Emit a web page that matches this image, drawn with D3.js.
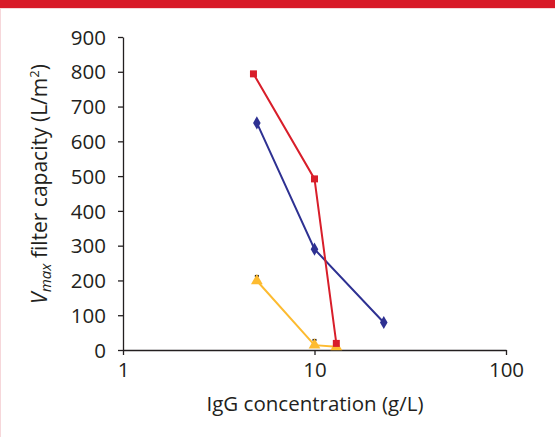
<!DOCTYPE html>
<html>
<head>
<meta charset="utf-8">
<script src="https://cdn.jsdelivr.net/npm/d3@7"></script>
<style>
  html, body { margin: 0; padding: 0; background: #fff; }
  svg { display: block; }
  text { font-family: "Open Sans", "Noto Sans", sans-serif; fill: #231f20; }
</style>
</head>
<body>
<svg id="chart" width="555" height="437"></svg>
<script>
// ---- data ----
const xTicks = [1, 10, 100];
const yTicks = [0, 100, 200, 300, 400, 500, 600, 700, 800, 900];

const redX = [4.8, 10, 13];
const redY = [794, 492, 19];

const blueX = [5.0, 10, 23];
const blueY = [653, 290, 79];

const yellowX = [5.0, 10, 13];
const yellowY = [199, 14, 9];
const yellowErrTop = [213, 29, 22];

const xTitle = "IgG concentration (g/L)";

// ---- layout ----
const svg = d3.select("#chart");
const W = 555, H = 437;

svg.append("rect").attr("x", 0).attr("y", 0).attr("width", W).attr("height", H).attr("fill", "#fff");
// red header bar + faint borders
svg.append("rect").attr("x", 0).attr("y", 0).attr("width", W).attr("height", 8).attr("fill", "#d81a28");
svg.append("rect").attr("x", 0).attr("y", 8).attr("width", W).attr("height", 1).attr("fill", "#f6d7da");
svg.append("rect").attr("x", 0).attr("y", 8).attr("width", 1).attr("height", H - 8).attr("fill", "#f6d7da");

const x = d3.scaleLog().domain([1, 100]).range([123, 506]);
const y = d3.scaleLinear().domain([0, 900]).range([350, 37]);

// axes
const xAxis = svg.append("g").attr("transform", "translate(0,350)")
  .call(d3.axisBottom(x).tickValues(xTicks).tickFormat(d3.format("d")).tickSize(5).tickSizeOuter(0).tickPadding(5));
const yAxis = svg.append("g").attr("transform", "translate(123,0)")
  .call(d3.axisLeft(y).tickValues(yTicks).tickSize(5).tickSizeOuter(0).tickPadding(12));

[xAxis, yAxis].forEach(g => {
  g.select(".domain").attr("stroke", "#231f20").attr("stroke-width", 1.3);
  g.selectAll(".tick line").attr("stroke", "#231f20").attr("stroke-width", 1.3);
  g.selectAll(".tick text").attr("font-size", 20.5).attr("fill", "#231f20")
    .style("font-family", '"Open Sans", sans-serif');
});
xAxis.selectAll(".tick text").attr("dy", "0.85em");
yAxis.selectAll(".tick text").attr("dy", "0.35em");

// axis titles
svg.append("text").attr("x", 315).attr("y", 411).attr("text-anchor", "middle")
  .attr("font-size", 20.5).text(xTitle);

const yt = svg.append("text").attr("transform", "translate(47,184) rotate(-90)")
  .attr("text-anchor", "middle").attr("font-size", 21);
yt.append("tspan").attr("font-style", "italic").text("V");
yt.append("tspan").attr("font-style", "italic").attr("font-size", 15).attr("dy", 4).text("max");
yt.append("tspan").attr("dy", -4).text(" filter capacity (L/m");
yt.append("tspan").attr("font-size", 13).attr("dy", -8).text("2");
yt.append("tspan").attr("dy", 8).text(")");

// series
const line = d3.line().x(d => x(d[0])).y(d => y(d[1]));
function series(xs, ys) { return xs.map((v, i) => [v, ys[i]]); }

const red = series(redX, redY);
const blue = series(blueX, blueY);
const yellow = series(yellowX, yellowY);

const cRed = "#d81e2a", cBlue = "#2e3192", cYellow = "#fdbb30";

svg.append("path").datum(yellow).attr("d", line).attr("fill", "none").attr("stroke", cYellow).attr("stroke-width", 2);
svg.append("path").datum(blue).attr("d", line).attr("fill", "none").attr("stroke", cBlue).attr("stroke-width", 2);
svg.append("path").datum(red).attr("d", line).attr("fill", "none").attr("stroke", cRed).attr("stroke-width", 2);

// yellow error caps
svg.selectAll(".err").data(yellowX.map((v, i) => [v, yellowY[i], yellowErrTop[i]])).enter()
  .append("line")
  .attr("x1", d => x(d[0])).attr("x2", d => x(d[0]))
  .attr("y1", d => y(d[1])).attr("y2", d => y(d[2]))
  .attr("stroke", "#231f20").attr("stroke-width", 2);
svg.selectAll(".cap").data(yellowX.map((v, i) => [v, yellowErrTop[i]])).enter()
  .append("line")
  .attr("x1", d => x(d[0]) - 2).attr("x2", d => x(d[0]) + 2)
  .attr("y1", d => y(d[1])).attr("y2", d => y(d[1]))
  .attr("stroke", "#231f20").attr("stroke-width", 2);

// markers
svg.selectAll(".ym").data(yellow).enter().append("path")
  .attr("transform", d => `translate(${x(d[0])},${y(d[1])})`)
  .attr("d", d3.symbol(d3.symbolTriangle, 60)).attr("fill", cYellow);

svg.selectAll(".bm").data(blue).enter().append("path")
  .attr("transform", d => `translate(${x(d[0])},${y(d[1])})`)
  .attr("d", d3.symbol(d3.symbolDiamond, 50)).attr("fill", cBlue);

svg.selectAll(".rm").data(red).enter().append("path")
  .attr("transform", d => `translate(${x(d[0])},${y(d[1])})`)
  .attr("d", d3.symbol(d3.symbolSquare, 49)).attr("fill", cRed);
</script>
</body>
</html>
